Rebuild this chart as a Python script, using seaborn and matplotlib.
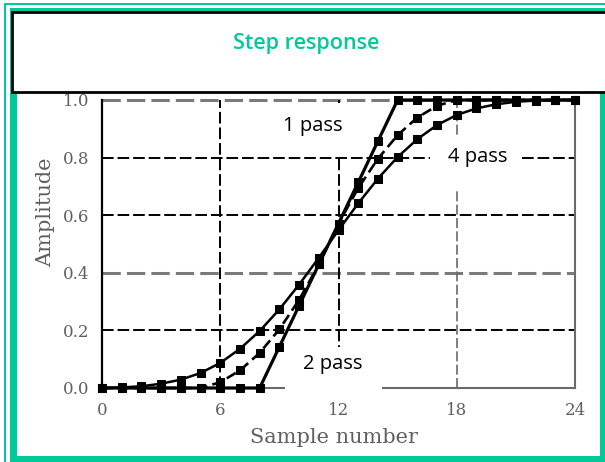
import matplotlib
matplotlib.use("Agg")
import matplotlib.pyplot as plt
from matplotlib.patches import Rectangle
import pandas as pd
import seaborn as sns

# Step response of a 7-point moving average filter after 1, 2 and 4 passes
samples = list(range(25))
one_pass = [0.0, 0.0, 0.0, 0.0, 0.0, 0.0, 0.0, 0.0, 0.0, 0.143, 0.286, 0.429, 0.571,
            0.714, 0.857, 1.0, 1.0, 1.0, 1.0, 1.0, 1.0, 1.0, 1.0, 1.0, 1.0]
two_pass = [0.0, 0.0, 0.0, 0.0, 0.0, 0.0, 0.020, 0.061, 0.122, 0.204, 0.306, 0.429, 0.571,
            0.694, 0.796, 0.878, 0.939, 0.980, 1.0, 1.0, 1.0, 1.0, 1.0, 1.0, 1.0]
four_pass = [0.000, 0.002, 0.006, 0.015, 0.029, 0.052, 0.087, 0.136, 0.198, 0.273, 0.359,
             0.452, 0.548, 0.641, 0.727, 0.802, 0.864, 0.913, 0.948, 0.971, 0.985, 0.994,
             0.998, 1.000, 1.000]
x_ticks = [0, 6, 12, 18, 24]
y_ticks = [0.0, 0.2, 0.4, 0.6, 0.8, 1.0]
title = "Step response"
x_label = "Sample number"
y_label = "Amplitude"
curve_labels = ["1 pass", "4 pass", "2 pass"]

GREEN = "#00C99A"
W, H = 605, 462

sns.set_style("white")
plt.rcParams["font.family"] = ["Open Sans", "DejaVu Sans"]

fig = plt.figure(figsize=(W / 100, H / 100), dpi=100)


def px_rect(x0, y0, x1, y1, **kw):
    """Rectangle given in pixel coordinates measured from the top-left corner."""
    return Rectangle((x0 / W, 1 - y1 / H), (x1 - x0) / W, (y1 - y0) / H,
                     transform=fig.transFigure, **kw)


# Double green frame around the figure
for r in [(4, 3, 6, H), (4, 3, W, 5),                       # thin outer line
          (10, 8, 17, H), (10, 8, W, 14),                   # thick inner band
          (600, 92, W, H), (10, 456, W, H)]:
    fig.add_artist(px_rect(*r, facecolor=GREEN, edgecolor="none", zorder=0))

ax = fig.add_axes([102 / W, 1 - 388 / H, 473 / W, 288 / H])

df = pd.DataFrame({"n": samples, "p1": one_pass, "p2": two_pass, "p4": four_pass})
styles = {"p1": dict(lw=2.3, ls="-"), "p2": dict(lw=1.9, ls=(0, (4, 2))),
          "p4": dict(lw=1.8, ls="-")}
for col, st in styles.items():
    sns.lineplot(data=df, x="n", y=col, ax=ax, color="black", marker="s",
                 markersize=5.5, markeredgecolor="black", linewidth=st["lw"],
                 linestyle=st["ls"], clip_on=False, zorder=5)

ax.set_xlim(0, 24)
ax.set_ylim(0, 1.0)
ax.set_xticks(x_ticks)
ax.set_yticks(y_ticks)
ax.set_yticklabels([f"{v:.1f}" for v in y_ticks])

# Dashed grid
for yv in [0.2, 0.6, 0.8]:
    ax.axhline(yv, color="black", lw=1.4, ls=(0, (6, 2)), zorder=1)
for yv in [0.4, 1.0]:
    ax.axhline(yv, color="#7a7a7a", lw=2.2, ls=(0, (6, 2)), zorder=1, clip_on=False)
for xv in [6, 12]:
    ax.axvline(xv, color="black", lw=1.4, ls=(0, (6, 2)), zorder=1)
ax.axvline(18, color="#6a6a6a", lw=1.2, ls=(0, (6, 2)), zorder=1)

ax.spines["top"].set_visible(False)
ax.spines["left"].set_color("black")
ax.spines["left"].set_linewidth(1.6)
ax.spines["bottom"].set_color("#6a6a6a")
ax.spines["bottom"].set_linewidth(1.5)
ax.spines["right"].set_color("#6a6a6a")
ax.spines["right"].set_linewidth(1.5)

serif = ["DejaVu Serif"]
ax.tick_params(axis="both", direction="out", length=6, width=1.3, color="#333333",
               labelcolor="#5f5f5f", labelsize=12, pad=3)
ax.tick_params(axis="x", length=7)
for lab in ax.get_xticklabels() + ax.get_yticklabels():
    lab.set_fontfamily(serif)
ax.set_xlabel(x_label, fontsize=15, color="#5f5f5f", family=serif)
ax.set_ylabel(y_label, fontsize=15, color="#5f5f5f", family=serif)
ax.xaxis.set_label_coords(0.49, -0.14)
ax.yaxis.set_label_coords(-0.099, 0.61)

# Curve labels on white panels (panel extents in data units)
panels = [(8.42, 0.809, 13.34, 0.990), (16.64, 0.6875, 21.21, 0.868),
          (9.28, -0.042, 14.21, 0.142)]
label_pos = [(10.7, 0.91), (19.08, 0.802), (11.72, 0.083)]
for txt, (x0, y0, x1, y1), (xv, yv) in zip(curve_labels, panels, label_pos):
    ax.add_patch(Rectangle((x0, y0), x1 - x0, y1 - y0, facecolor="white",
                           edgecolor="none", zorder=3, clip_on=False))
    ax.text(xv, yv, txt, fontsize=14.5, color="black", ha="center", va="center",
            zorder=3.5, clip_on=False)

# Title panel (runs off the right edge)
fig.add_artist(px_rect(12, 12, 612, 92, facecolor="white", edgecolor="black",
                       linewidth=2, zorder=10))
fig.text(306 / W, 1 - 44 / H, title, color=GREEN, fontsize=15.5, fontweight="semibold",
         ha="center", va="center", zorder=11)

fig.savefig("out.png", dpi=100)
